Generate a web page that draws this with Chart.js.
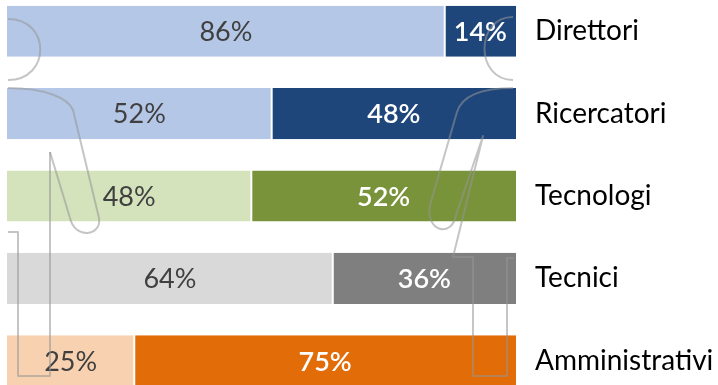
<!DOCTYPE html>
<html>
<head>
<meta charset="utf-8">
<script src="https://cdn.jsdelivr.net/npm/chart.js@4"></script>
<style>
  html, body { margin: 0; padding: 0; background: #fff; overflow: hidden; }
  #wrap { position: absolute; left: 0; top: -10px; width: 718px; height: 412px; }
</style>
</head>
<body>
<div id="wrap"><canvas id="chart" width="718" height="412"></canvas></div>
<script>
const categories = ['Direttori', 'Ricercatori', 'Tecnologi', 'Tecnici', 'Amministrativi'];
const shareA = [86, 52, 48, 64, 25];
const shareB = [14, 48, 52, 36, 75];
const lightColors = ['#b4c7e7', '#b4c7e7', '#d5e3bd', '#d9d9d9', '#f8d2b0'];
const darkColors = ['#1e467b', '#1e467b', '#789339', '#7f7f7f', '#e26c08'];

// percentage text in the middle of each segment
const segmentLabels = {
  id: 'segmentLabels',
  afterDatasetsDraw(chart) {
    const ctx = chart.ctx;
    ctx.save();
    ctx.textAlign = 'center';
    ctx.textBaseline = 'middle';
    chart.data.datasets.forEach((ds, di) => {
      const meta = chart.getDatasetMeta(di);
      meta.data.forEach((bar, i) => {
        const mid = (bar.x + bar.base) / 2;
        ctx.font = ds.labelFont;
        ctx.fillStyle = ds.labelColor;
        ctx.fillText(ds.data[i] + '%', mid, bar.y + 1);
      });
    });
    ctx.restore();
  }
};

// faint woman / man outlines laid over the bars
const figures = {
  id: 'figures',
  afterDraw(chart) {
    const ctx = chart.ctx;
    ctx.save();
    ctx.translate(0, 10);
    ctx.strokeStyle = 'rgba(150,150,150,0.55)';
    ctx.lineWidth = 2;
    ctx.lineJoin = 'round';

    // left figure
    ctx.beginPath();
    ctx.moveTo(8, 19);
    ctx.bezierCurveTo(51, 19, 51, 80, 8, 80);
    ctx.stroke();
    ctx.beginPath();
    ctx.moveTo(8, 88);
    ctx.bezierCurveTo(45, 88, 68, 98, 73, 110);
    ctx.lineTo(99, 218);
    ctx.bezierCurveTo(102, 236, 75, 240, 70, 218);
    ctx.lineTo(50, 152);
    ctx.stroke();
    ctx.beginPath();
    ctx.moveTo(50, 152);
    ctx.lineTo(50, 376);
    ctx.lineTo(18, 376);
    ctx.lineTo(18, 232);
    ctx.lineTo(8, 232);
    ctx.stroke();

    // right figure
    ctx.beginPath();
    ctx.moveTo(513, 17);
    ctx.bezierCurveTo(475, 17, 475, 80, 513, 80);
    ctx.stroke();
    ctx.beginPath();
    ctx.moveTo(513, 88);
    ctx.bezierCurveTo(480, 88, 462, 96, 457, 112);
    ctx.lineTo(430, 205);
    ctx.bezierCurveTo(425, 232, 452, 238, 456, 215);
    ctx.lineTo(483, 136);
    ctx.lineTo(453, 257);
    ctx.lineTo(473, 257);
    ctx.lineTo(473, 376);
    ctx.lineTo(507, 376);
    ctx.lineTo(507, 258);
    ctx.lineTo(514, 258);
    ctx.stroke();
    ctx.restore();
  }
};

new Chart(document.getElementById('chart'), {
  type: 'bar',
  data: {
    labels: categories,
    datasets: [
      {
        data: shareA,
        backgroundColor: lightColors,
        borderColor: '#fff',
        borderWidth: { right: 1, left: 0, top: 0, bottom: 0 },
        borderSkipped: false,
        labelColor: '#404040',
        labelFont: '27px Lato'
      },
      {
        data: shareB,
        backgroundColor: darkColors,
        borderColor: '#fff',
        borderWidth: { left: 1, right: 0, top: 0, bottom: 0 },
        borderSkipped: false,
        labelColor: '#ffffff',
        labelFont: '600 27px Lato'
      }
    ]
  },
  options: {
    indexAxis: 'y',
    responsive: false,
    animation: false,
    barPercentage: 0.62,
    categoryPercentage: 1,
    layout: { padding: { left: 7, top: 0, bottom: 0, right: 0 } },
    plugins: { legend: { display: false }, tooltip: { enabled: false } },
    scales: {
      x: { stacked: true, min: 0, max: 100, display: false },
      y: {
        stacked: true,
        position: 'right',
        grid: { display: false, drawTicks: false },
        border: { display: false },
        afterFit(scale) {
          scale.width = 202;
          scale.paddingTop = 0;
          scale.paddingBottom = 0;
        },
        ticks: {
          padding: 19,
          color: '#000',
          font: { family: 'Lato', size: 28 }
        }
      }
    }
  },
  plugins: [segmentLabels, figures]
});
</script>
</body>
</html>
